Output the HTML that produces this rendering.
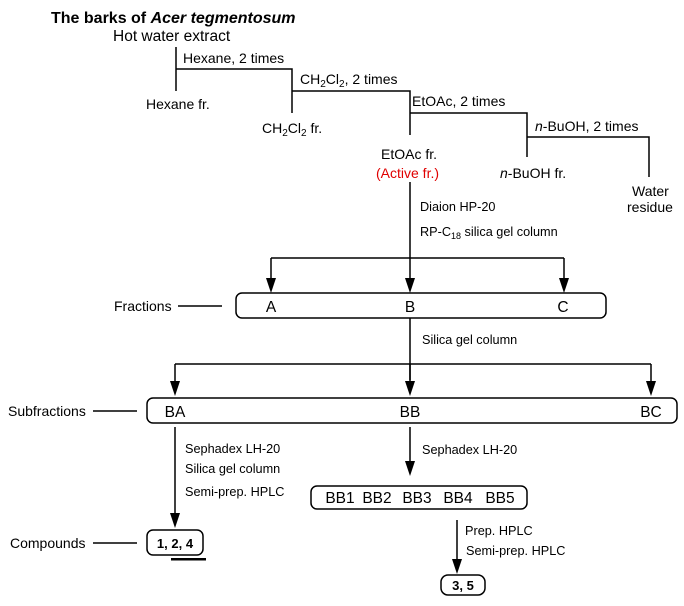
<!DOCTYPE html>
<html><head><meta charset="utf-8"><style>
html,body{margin:0;padding:0;background:#fff;}
svg{display:block;}
text{font-family:"Liberation Sans",Arial,sans-serif;fill:#000;}
.m{font-size:15.5px;}
.s{font-size:12.7px;}
.t{font-size:14px;}
</style></head><body>
<svg width="684" height="606" viewBox="0 0 684 606" xmlns="http://www.w3.org/2000/svg">
<g stroke="#000" stroke-width="1.5" fill="none">
<path d="M176,47V91M176,69H292V113M292,91H410V135M410,113H527V157M527,137H649V177"/>
<path d="M410,182V278M271,258H564"/>
<path d="M178,306H222M93,411H137M93,543H137"/>
<path d="M410,318V380M175,364H651"/>
<path d="M175,427V513M410,427V461M457,520V559"/>
<path d="M271,258V278M564,258V278M175,364V381M651,364V381M410,364V381"/>
<rect x="236" y="293" width="370" height="25" rx="6"/>
<rect x="147" y="398" width="530" height="25" rx="6"/>
<rect x="311" y="486" width="216" height="23" rx="6"/>
<rect x="147" y="530" width="56" height="25" rx="6"/>
<rect x="441" y="575" width="44" height="20" rx="7"/>
</g>
<g fill="#000">
<path d="M266,278h10l-5,15z M405,278h10l-5,15z M559,278h10l-5,15z"/>
<path d="M170,381h10l-5,15z M405,381h10l-5,15z M646,381h10l-5,15z"/>
<path d="M170,513h10l-5,15z M405,461h10l-5,15z M452,559h10l-5,15z"/>
<rect x="171" y="558" width="35" height="2.5"/>
</g>
<text x="51" y="23" style="font-size:16px;font-weight:bold">The barks of <tspan font-style="italic">Acer tegmentosum</tspan></text>
<text class="m" x="113" y="41">Hot water extract</text>
<text class="t" x="183" y="63">Hexane, 2 times</text>
<text class="t" x="146" y="109">Hexane fr.</text>
<text class="t" x="300" y="84">CH<tspan dy="3" font-size="10">2</tspan><tspan dy="-3">Cl</tspan><tspan dy="3" font-size="10">2</tspan><tspan dy="-3">, 2 times</tspan></text>
<text class="t" x="262" y="133">CH<tspan dy="3" font-size="10">2</tspan><tspan dy="-3">Cl</tspan><tspan dy="3" font-size="10">2</tspan><tspan dy="-3"> fr.</tspan></text>
<text class="t" x="412" y="106">EtOAc, 2 times</text>
<text class="t" x="381" y="159">EtOAc fr.</text>
<text class="t" x="376" y="178" style="fill:#e00000">(Active fr.)</text>
<text class="t" x="535" y="131"><tspan font-style="italic">n</tspan>-BuOH, 2 times</text>
<text class="t" x="500" y="178"><tspan font-style="italic">n</tspan>-BuOH fr.</text>
<text class="t" x="632" y="196">Water</text>
<text class="t" x="627" y="212">residue</text>
<text class="s" x="420" y="211">Diaion HP-20</text>
<text class="s" x="420" y="236">RP-C<tspan dy="3" font-size="9">18</tspan><tspan dy="-3"> silica gel column</tspan></text>
<text class="t" x="114" y="311">Fractions</text>
<text class="m" x="271" y="312" text-anchor="middle">A</text>
<text class="m" x="410" y="312" text-anchor="middle">B</text>
<text class="m" x="563" y="312" text-anchor="middle">C</text>
<text class="s" x="422" y="344">Silica gel column</text>
<text class="t" x="8" y="416">Subfractions</text>
<text class="m" x="175" y="417" text-anchor="middle">BA</text>
<text class="m" x="410" y="417" text-anchor="middle">BB</text>
<text class="m" x="651" y="417" text-anchor="middle">BC</text>
<text class="s" x="185" y="453">Sephadex LH-20</text>
<text class="s" x="185" y="473">Silica gel column</text>
<text class="s" x="185" y="496">Semi-prep. HPLC</text>
<text class="s" x="422" y="454">Sephadex LH-20</text>
<text class="m" x="340" y="503" text-anchor="middle">BB1</text>
<text class="m" x="377" y="503" text-anchor="middle">BB2</text>
<text class="m" x="417" y="503" text-anchor="middle">BB3</text>
<text class="m" x="458" y="503" text-anchor="middle">BB4</text>
<text class="m" x="500" y="503" text-anchor="middle">BB5</text>
<text class="t" x="10" y="548">Compounds</text>
<text x="175" y="548" text-anchor="middle" style="font-size:13px;font-weight:bold">1, 2, 4</text>
<text class="s" x="465" y="535">Prep. HPLC</text>
<text class="s" x="466" y="555">Semi-prep. HPLC</text>
<text x="463" y="590" text-anchor="middle" style="font-size:13px;font-weight:bold">3, 5</text>
</svg>
</body></html>
